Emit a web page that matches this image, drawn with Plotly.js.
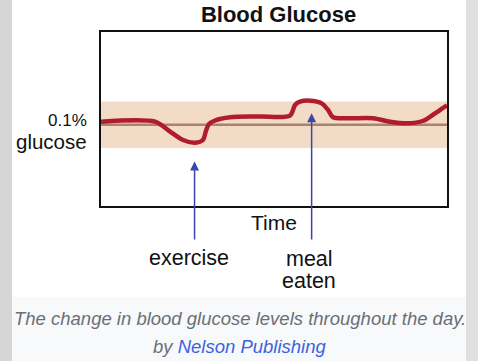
<!DOCTYPE html>
<html><head><meta charset="utf-8">
<script src="https://cdn.plot.ly/plotly-3.0.1.min.js"></script>
<style>html,body{margin:0;padding:0;background:#fff;overflow:hidden}#chart{width:478px;height:361px}</style>
</head><body><div id="chart"></div>
<script>
// Data (time in hours, glucose in %)
const timeHours = [0, 3.75, 4.79, 5.69, 6.52, 7.07, 7.28, 7.49, 7.91, 8.95, 11.03, 13.11, 13.46, 13.80, 14.50, 15.31, 15.75, 16.09, 17.04, 18.87, 20.05, 21.20, 22.36, 23.17, 23.86, 24];
const glucosePct = [0.1027, 0.1027, 0.0941, 0.0869, 0.0846, 0.0869, 0.0947, 0.1007, 0.1037, 0.1065, 0.1072, 0.1080, 0.1171, 0.1199, 0.1208, 0.1185, 0.1128, 0.1065, 0.1056, 0.1056, 0.1027, 0.1013, 0.1035, 0.1099, 0.1156, 0.1166];
const normalLevel = 0.1;
const normalBand = [0.08, 0.12];
const eventLabels = [['exercise'], ['meal', 'eaten']];
const eventTimes = [6.49, 14.61];
const eventTipLevels = [0.0684, 0.1099];
const yLabels = ['0.1%', 'glucose'];
const titleText = 'Blood Glucose';
const xTitleText = 'Time';
const captionText = 'The change in blood glucose levels throughout the day.';
const creditPrefix = 'by ';
const creditName = 'Nelson Publishing';

const FONT = 'Liberation Sans, Arial, Helvetica, sans-serif';
const W = 478, H = 361;
const px = v => v / W;
const py = v => 1 - v / H;

const trace = {
  x: timeHours, y: glucosePct, type: 'scatter', mode: 'lines',
  line: {color: '#b01c2c', width: 4.5, shape: 'spline', smoothing: 0.8},
  hoverinfo: 'skip', showlegend: false
};

const shapes = [
  {type: 'rect', xref: 'paper', yref: 'paper', x0: 0, x1: px(12), y0: 0, y1: 1, fillcolor: '#d6d6d6', line: {width: 0}, layer: 'below'},
  {type: 'rect', xref: 'paper', yref: 'paper', x0: px(466), x1: 1, y0: 0, y1: 1, fillcolor: '#e0e0e0', line: {width: 0}, layer: 'below'},
  {type: 'rect', xref: 'paper', yref: 'paper', x0: px(12), x1: px(466), y0: 0, y1: py(297), fillcolor: '#f8f9fa', line: {width: 0}, layer: 'below'},
  {type: 'rect', xref: 'x domain', yref: 'y', x0: 0, x1: 1, y0: normalBand[0], y1: normalBand[1], fillcolor: '#f2dcc8', line: {width: 0}, layer: 'below'},
  {type: 'line', xref: 'x domain', yref: 'y', x0: 0, x1: 1, y0: normalLevel, y1: normalLevel, line: {color: '#a8836f', width: 2.5}, layer: 'below'}
];

const tailOffsets = [79.5, 127.7];
const annotations = [];
eventTimes.forEach((t, i) => {
  annotations.push({x: t, y: eventTipLevels[i], xref: 'x', yref: 'y', ax: 0, ay: tailOffsets[i],
    showarrow: true, arrowhead: 2, arrowsize: 1.2, arrowwidth: 1.5, arrowcolor: '#3a47a6', text: ''});
});
const labelPos = [[[189, 257.6]], [[309, 259], [308.5, 280.6]]];
eventLabels.forEach((lines, i) => {
  lines.forEach((s, j) => {
    annotations.push({text: s, xref: 'paper', yref: 'paper', x: px(labelPos[i][j][0]), y: py(labelPos[i][j][1]),
      xanchor: 'center', yanchor: 'middle', showarrow: false, font: {family: FONT, size: 21.5, color: '#111'}});
  });
});
annotations.push({text: xTitleText, xref: 'paper', yref: 'paper', x: px(274), y: py(222.6), xanchor: 'center', yanchor: 'middle', showarrow: false, font: {family: FONT, size: 21, color: '#111'}});
annotations.push({text: yLabels[0], xref: 'paper', yref: 'paper', x: px(89), y: py(120.7), xanchor: 'right', yanchor: 'middle', showarrow: false, font: {family: FONT, size: 17, color: '#111'}});
annotations.push({text: yLabels[1], xref: 'paper', yref: 'paper', x: px(89), y: py(141), xanchor: 'right', yanchor: 'middle', showarrow: false, font: {family: FONT, size: 20.5, color: '#111'}});
annotations.push({text: '<i>' + captionText + '</i>', xref: 'paper', yref: 'paper', x: px(239.5), y: py(318.5), xanchor: 'center', yanchor: 'middle', showarrow: false, font: {family: FONT, size: 18.5, color: '#6b6f75'}});
annotations.push({text: '<i>' + creditPrefix + '<span style="color:#3b63e0">' + creditName + '</span></i>', xref: 'paper', yref: 'paper', x: px(239.5), y: py(346.5), xanchor: 'center', yanchor: 'middle', showarrow: false, font: {family: FONT, size: 18.5, color: '#6b6f75'}});

const layout = {
  width: W, height: H, autosize: false,
  margin: {l: 0, r: 0, t: 0, b: 0, pad: 0},
  paper_bgcolor: '#ffffff', plot_bgcolor: 'rgba(0,0,0,0)',
  title: {text: '<b>' + titleText + '</b>', x: px(278.5), xanchor: 'center', y: py(14.3), yanchor: 'middle', font: {family: FONT, size: 22, color: '#111'}},
  xaxis: {domain: [px(101), px(447)], range: [0, 24], showticklabels: false, ticks: '', showgrid: false, zeroline: false,
    showline: true, mirror: true, linecolor: '#111', linewidth: 2, fixedrange: true},
  yaxis: {domain: [py(206), py(32)], range: [0.03, 0.18], showticklabels: false, ticks: '', showgrid: false, zeroline: false,
    showline: true, mirror: true, linecolor: '#111', linewidth: 2, fixedrange: true},
  shapes: shapes, annotations: annotations, showlegend: false
};

Plotly.newPlot('chart', [trace], layout, {displayModeBar: false, staticPlot: true});
</script>
</body></html>
